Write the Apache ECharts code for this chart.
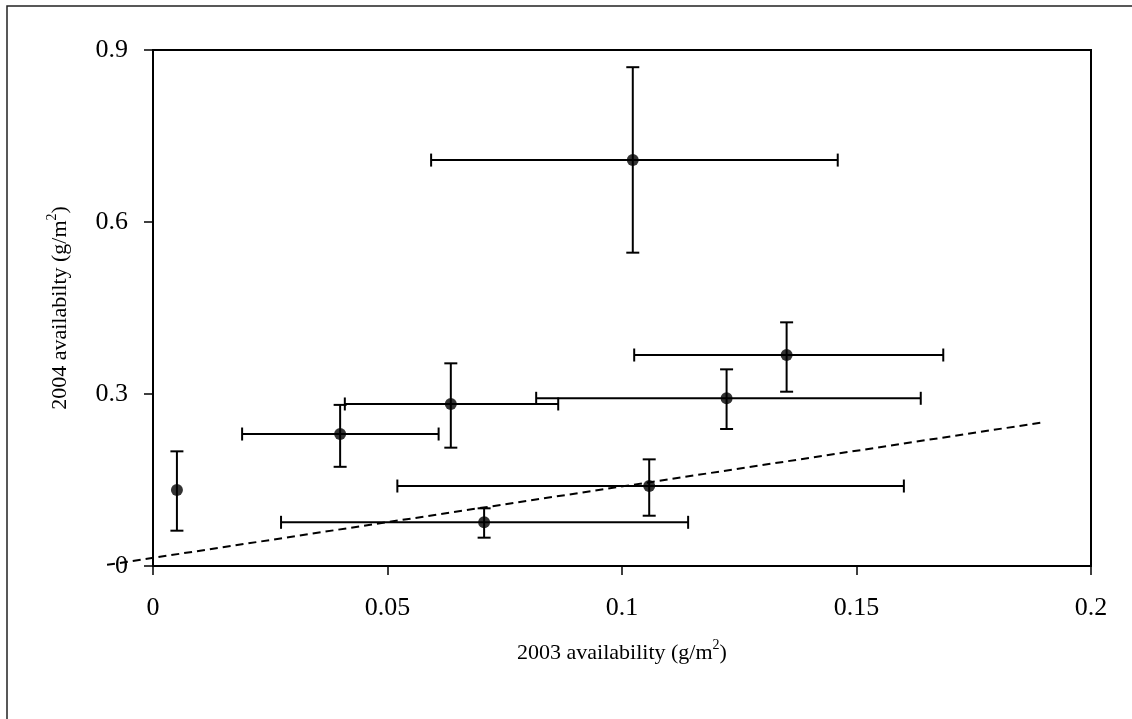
<!DOCTYPE html>
<html>
<head>
<meta charset="utf-8">
<script src="https://cdn.jsdelivr.net/npm/echarts@6/dist/echarts.min.js"></script>
<style>
html,body{margin:0;padding:0;background:#fff;}
#chart{width:1132px;height:719px;}
</style>
</head>
<body>
<div id="chart"></div>
<script>
// Data
var xVals = [0.0051, 0.0399, 0.0635, 0.0706, 0.1058, 0.1223, 0.1351, 0.1023];
var yVals = [0.1326, 0.2302, 0.2826, 0.0762, 0.1395, 0.2925, 0.3680, 0.7080];
var xLow  = [0.0051, 0.0190, 0.0409, 0.0273, 0.0521, 0.0817, 0.1026, 0.0593];
var xHigh = [0.0051, 0.0609, 0.0864, 0.1141, 0.1601, 0.1637, 0.1685, 0.1460];
var yLow  = [0.0616, 0.1730, 0.2064, 0.0494, 0.0877, 0.2390, 0.3040, 0.5465];
var yHigh = [0.2000, 0.2810, 0.3535, 0.1006, 0.1860, 0.3430, 0.4250, 0.8700];
var refLineX = [-0.0098, 0.1893];
var refLineY = [0.002, 0.250];
var xTickLabels = ['0', '0.05', '0.1', '0.15', '0.2'];
var yTickLabels = ['0', '0.3', '0.6', '0.9'];

var FONT = '"Liberation Serif", "Times New Roman", serif';

var points = xVals.map(function (x, i) { return [x, yVals[i]]; });
var errData = xVals.map(function (x, i) {
  return [x, yVals[i], xLow[i], xHigh[i], yLow[i], yHigh[i]];
});
var lineData = [[refLineX[0], refLineY[0], refLineX[1], refLineY[1]]];

var chart = echarts.init(document.getElementById('chart'));
var CAP = 6.5;
var richTitle = {
  t: { fontFamily: FONT, fontSize: 22, color: '#000', verticalAlign: 'bottom', lineHeight: 26 },
  s: { fontFamily: FONT, fontSize: 14, color: '#000', verticalAlign: 'top', lineHeight: 26, padding: [0, 0, 10, 0] }
};
chart.setOption({
  backgroundColor: '#ffffff',
  animation: false,
  graphic: [{
    type: 'rect',
    shape: { x: 7, y: 6, width: 1300, height: 900 },
    style: { fill: 'none', stroke: '#222', lineWidth: 1.5 },
    silent: true
  }],
  grid: { left: 153, top: 50, right: 41, bottom: 153, show: true, borderColor: '#000', borderWidth: 2, backgroundColor: 'transparent' },
  xAxis: {
    type: 'value', min: 0, max: 0.2, interval: 0.05,
    axisLine: { show: true, onZero: false, lineStyle: { color: '#000', width: 2 } },
    axisTick: { show: true, inside: false, length: 9, lineStyle: { color: '#000', width: 1.5 } },
    splitLine: { show: false },
    axisLabel: {
      margin: 29, color: '#000', fontFamily: FONT, fontSize: 26,
      formatter: function (v) { var i = Math.round(v / 0.05); return xTickLabels[i] !== undefined ? xTickLabels[i] : ''; }
    },
    name: '{t|2003 availability (g/m}{s|2}{t|)}',
    nameLocation: 'middle', nameGap: 72,
    nameTextStyle: { rich: richTitle }
  },
  yAxis: {
    type: 'value', min: 0, max: 0.9, interval: 0.3,
    axisLine: { show: true, onZero: false, lineStyle: { color: '#000', width: 2 } },
    axisTick: { show: true, inside: false, length: 9, lineStyle: { color: '#000', width: 1.5 } },
    splitLine: { show: false },
    axisLabel: {
      margin: 25, color: '#000', fontFamily: FONT, fontSize: 26,
      formatter: function (v) { var i = Math.round(v / 0.3); return yTickLabels[i] !== undefined ? yTickLabels[i] : ''; }
    },
    name: '{t|2004 availabilty (g/m}{s|2}{t|)}',
    nameLocation: 'middle', nameGap: 82,
    nameTextStyle: { rich: richTitle }
  },
  series: [
    {
      type: 'custom', z: 1, clip: false, silent: true,
      data: lineData,
      renderItem: function (params, api) {
        var p1 = api.coord([api.value(0), api.value(1)]);
        var p2 = api.coord([api.value(2), api.value(3)]);
        return {
          type: 'line',
          shape: { x1: p1[0], y1: p1[1], x2: p2[0], y2: p2[1] },
          style: { stroke: '#000', lineWidth: 2, lineDash: [8, 5], fill: null }
        };
      }
    },
    {
      type: 'custom', z: 2, clip: false,
      data: errData,
      renderItem: function (params, api) {
        var x = api.value(0), y = api.value(1);
        var xl = api.coord([api.value(2), y]);
        var xh = api.coord([api.value(3), y]);
        var yl = api.coord([x, api.value(4)]);
        var yh = api.coord([x, api.value(5)]);
        var st = { stroke: '#000', lineWidth: 2, fill: null };
        var children = [
          { type: 'line', shape: { x1: yl[0], y1: yl[1], x2: yh[0], y2: yh[1] }, style: st },
          { type: 'line', shape: { x1: yl[0] - CAP, y1: yl[1], x2: yl[0] + CAP, y2: yl[1] }, style: st },
          { type: 'line', shape: { x1: yh[0] - CAP, y1: yh[1], x2: yh[0] + CAP, y2: yh[1] }, style: st }
        ];
        if (Math.abs(xh[0] - xl[0]) > 1) {
          children.push(
            { type: 'line', shape: { x1: xl[0], y1: xl[1], x2: xh[0], y2: xh[1] }, style: st },
            { type: 'line', shape: { x1: xl[0], y1: xl[1] - CAP, x2: xl[0], y2: xl[1] + CAP }, style: st },
            { type: 'line', shape: { x1: xh[0], y1: xh[1] - CAP, x2: xh[0], y2: xh[1] + CAP }, style: st }
          );
        }
        return { type: 'group', children: children };
      }
    },
    {
      type: 'scatter', data: points, z: 3, symbol: 'circle', symbolSize: 12,
      itemStyle: { color: '#000' }
    }
  ]
});
</script>
</body>
</html>
